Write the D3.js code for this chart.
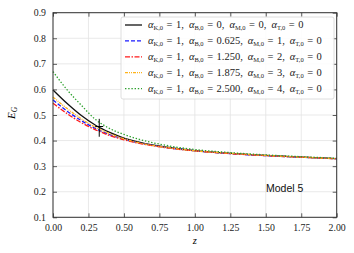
<!DOCTYPE html>
<html>
<head>
<meta charset="utf-8">
<script src="https://cdn.jsdelivr.net/npm/d3@7"></script>
<style>
  body { margin: 0; background: #fff; }
  svg { display: block; }
</style>
</head>
<body>
<div id="chart"></div>
<script>
// redshift samples
var zs = [0, 0.1, 0.2, 0.3, 0.4, 0.5, 0.6, 0.7, 0.8, 0.9, 1.0, 1.25, 1.5, 1.75, 2.0];

// E_G, one array per model variant
var egA = [0.598, 0.545, 0.498, 0.460, 0.432, 0.410, 0.395, 0.383, 0.374, 0.367, 0.361, 0.350, 0.342, 0.335, 0.329];
var egB = [0.559, 0.515, 0.478, 0.447, 0.423, 0.405, 0.391, 0.381, 0.372, 0.366, 0.360, 0.349, 0.341, 0.335, 0.329];
var egC = [0.546, 0.505, 0.470, 0.442, 0.420, 0.403, 0.390, 0.380, 0.372, 0.365, 0.360, 0.349, 0.341, 0.335, 0.329];
var egD = [0.570, 0.525, 0.485, 0.452, 0.427, 0.407, 0.392, 0.381, 0.373, 0.366, 0.360, 0.350, 0.342, 0.335, 0.329];
var egE = [0.670, 0.598, 0.538, 0.482, 0.447, 0.424, 0.406, 0.392, 0.381, 0.372, 0.365, 0.353, 0.344, 0.337, 0.331];

var legendB = ["0", "0.625", "1.250", "1.875", "2.500"];
var legendM = ["0", "1", "2", "3", "4"];

// observed point with error bar
var obsZ = [0.326];
var obsEG = [0.45];
var obsErr = [0.035];

var xTicks = [0, 0.25, 0.5, 0.75, 1.0, 1.25, 1.5, 1.75, 2.0];
var yTicks = [0.1, 0.2, 0.3, 0.4, 0.5, 0.6, 0.7, 0.8, 0.9];

var series = [
  { vals: egA, color: "#111111", dash: null },
  { vals: egB, color: "#1a1aff", dash: "4,2" },
  { vals: egC, color: "#ff1a1a", dash: "5,1.5,1.5,1.5" },
  { vals: egD, color: "#ffb31a", dash: "3,1,1,1,1,1" },
  { vals: egE, color: "#2ca02c", dash: "1.4,1.8" }
];

var width = 354, height = 253;
var margin = { top: 12.7, left: 53, bottom: 253 - 217.3, right: 354 - 336.7 };
var w = width - margin.left - margin.right;
var h = height - margin.top - margin.bottom;

var svg = d3.select("#chart").append("svg")
  .attr("width", width).attr("height", height);
var g = svg.append("g").attr("transform", "translate(" + margin.left + "," + margin.top + ")");

var x = d3.scaleLinear().domain([0, 2]).range([0, w]);
var y = d3.scaleLinear().domain([0.1, 0.9]).range([h, 0]);

// grid
g.append("g").selectAll("line").data(xTicks).enter().append("line")
  .attr("x1", function (d) { return x(d); }).attr("x2", function (d) { return x(d); })
  .attr("y1", 0).attr("y2", h)
  .attr("stroke", "#e3e3e3").attr("stroke-width", 0.8);
g.append("g").selectAll("line").data(yTicks).enter().append("line")
  .attr("y1", function (d) { return y(d); }).attr("y2", function (d) { return y(d); })
  .attr("x1", 0).attr("x2", w)
  .attr("stroke", "#e3e3e3").attr("stroke-width", 0.8);

// curves
var line = d3.line()
  .x(function (d, i) { return x(zs[i]); })
  .y(function (d) { return y(d); })
  .curve(d3.curveMonotoneX);

series.forEach(function (s) {
  g.append("path")
    .attr("d", line(s.vals))
    .attr("fill", "none")
    .attr("stroke", s.color)
    .attr("stroke-width", 1.3)
    .attr("stroke-dasharray", s.dash);
});

// data point
obsZ.forEach(function (z, i) {
  g.append("line")
    .attr("x1", x(z)).attr("x2", x(z))
    .attr("y1", y(obsEG[i] - obsErr[i])).attr("y2", y(obsEG[i] + obsErr[i]))
    .attr("stroke", "#000").attr("stroke-width", 1);
  g.append("line")
    .attr("x1", x(z) - 4).attr("x2", x(z) + 4)
    .attr("y1", y(obsEG[i] + 0.005)).attr("y2", y(obsEG[i] + 0.005))
    .attr("stroke", "#000").attr("stroke-width", 1);
});

// axes, ticks inward on all four sides
var serif = "'Liberation Serif', 'DejaVu Serif', serif";
function styleAxis(sel) {
  sel.select(".domain").remove();
  sel.selectAll(".tick line").attr("stroke", "#333").attr("stroke-width", 0.8);
  sel.selectAll("text").attr("font-family", serif).attr("font-size", 9.8).attr("fill", "#222");
}
g.append("g").attr("transform", "translate(0," + h + ")")
  .call(d3.axisBottom(x).tickValues(xTicks).tickFormat(d3.format(".2f")).tickSizeInner(-4).tickPadding(7))
  .call(styleAxis);
g.append("g")
  .call(d3.axisTop(x).tickValues(xTicks).tickFormat("").tickSizeInner(-4))
  .call(styleAxis);
g.append("g")
  .call(d3.axisLeft(y).tickValues(yTicks).tickFormat(d3.format(".1f")).tickSizeInner(-4).tickPadding(7))
  .call(styleAxis);
g.append("g").attr("transform", "translate(" + w + ",0)")
  .call(d3.axisRight(y).tickValues(yTicks).tickFormat("").tickSizeInner(-4))
  .call(styleAxis);

g.append("rect").attr("width", w).attr("height", h)
  .attr("fill", "none").attr("stroke", "#333").attr("stroke-width", 1);

// axis labels
svg.append("text")
  .attr("x", margin.left + w / 2).attr("y", 244)
  .attr("text-anchor", "middle")
  .attr("font-family", serif).attr("font-style", "italic").attr("font-size", 10.5)
  .text("z");
var yl = svg.append("text")
  .attr("transform", "translate(15,113) rotate(-90)")
  .attr("text-anchor", "middle")
  .attr("font-family", serif).attr("font-style", "italic").attr("font-size", 11);
yl.append("tspan").text("E");
yl.append("tspan").attr("font-size", 7.5).attr("dy", 2).text("G");

// legend
var lg = svg.append("g").attr("transform", "translate(121,17)");
lg.append("rect").attr("width", 213).attr("height", 82).attr("rx", 2)
  .attr("fill", "#fff").attr("fill-opacity", 0.85)
  .attr("stroke", "#d6d6d6").attr("stroke-width", 0.8);

function alpha(t, sub, val, first) {
  t.append("tspan").attr("font-style", "italic").attr("dx", first ? 0 : 5).text("α");
  t.append("tspan").attr("font-size", 6.5).attr("dy", 2).text(sub);
  t.append("tspan").attr("dy", -2).attr("dx", 3.5).text("=");
  t.append("tspan").attr("dx", 3.5).text(val);
}

series.forEach(function (s, i) {
  var yy = 8 + i * 15.9;
  lg.append("line")
    .attr("x1", 4).attr("x2", 21).attr("y1", yy).attr("y2", yy)
    .attr("stroke", s.color).attr("stroke-width", 1.3)
    .attr("stroke-dasharray", s.dash);
  var t = lg.append("text")
    .attr("x", 27).attr("y", yy + 3.2)
    .attr("font-family", serif).attr("font-size", 10.5).attr("fill", "#222");
  alpha(t, "K,0", "1,", true);
  alpha(t, "B,0", legendB[i] + ",", false);
  alpha(t, "M,0", legendM[i] + ",", false);
  alpha(t, "T,0", "0", false);
});

// annotation
svg.append("text")
  .attr("x", 266).attr("y", 191.5)
  .attr("font-family", "'Liberation Sans', Arial, sans-serif").attr("font-size", 10.5)
  .attr("fill", "#111")
  .text("Model 5");
</script>
</body>
</html>
